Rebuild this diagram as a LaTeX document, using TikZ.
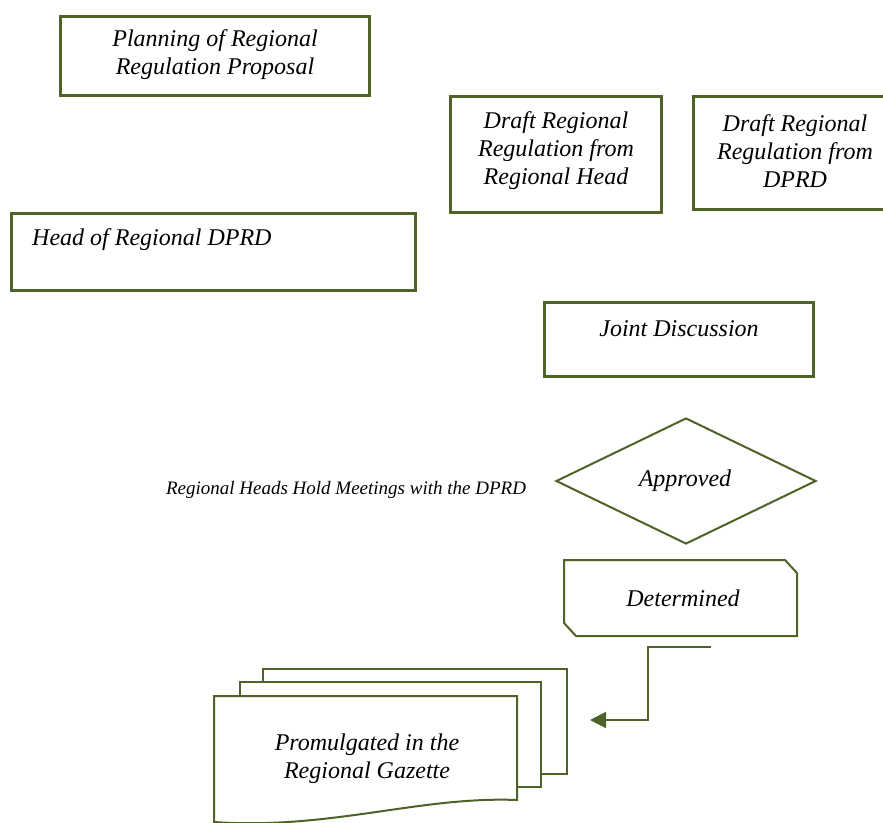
\documentclass[tikz,border=0pt]{standalone}
\usepackage{fontspec}
\setmainfont{Liberation Serif}
\usetikzlibrary{shapes.geometric,arrows.meta}
\definecolor{boxgreen}{HTML}{4F6228}
\begin{document}
\begin{tikzpicture}[x=1pt,y=-1pt,
  thickbox/.style={rectangle, draw=boxgreen, line width=3.2pt, fill=white, inner sep=0pt},
  thinline/.style={draw=boxgreen, line width=2pt},
  txt/.style={font=\fontsize{24}{28}\selectfont\itshape, align=center, inner sep=0pt, text=black},
  smalltxt/.style={font=\fontsize{19}{22}\selectfont\itshape, inner sep=0pt, text=black},
  docshape/.style={thinline, fill=white, line join=miter}]
\useasboundingbox (0,0) rectangle (883,822);
\clip (0,0) rectangle (883,822);
\fill[white] (0,0) rectangle (883,822);

% boxes
\node[thickbox, minimum width=309pt, minimum height=79pt] (plan) at (215,56) {};
\node[txt] (plantxt) at (215,55) {Planning of Regional\\Regulation Proposal};

\node[thickbox, minimum width=211pt, minimum height=116pt] (drh) at (556,154.5) {};
\node[txt] (drhtxt) at (556,151) {Draft Regional\\Regulation from\\Regional Head};

\node[thickbox, minimum width=203pt, minimum height=113pt] (ddprd) at (795,153) {};
\node[txt] (ddprdtxt) at (795,151) {Draft Regional\\Regulation from\\DPRD};

\node[thickbox, minimum width=404pt, minimum height=77pt] (head) at (213.5,252) {};
\node[txt, anchor=west] (headtxt) at (32,240) {Head of Regional DPRD};

\node[thickbox, minimum width=269pt, minimum height=74pt] (joint) at (679,339.5) {};
\node[txt] (jointtxt) at (679,329) {Joint Discussion};

\node[smalltxt] (meet) at (346,490) {Regional Heads Hold Meetings with the DPRD};

\node[diamond, thinline, fill=white, minimum width=260pt, minimum height=126pt, inner sep=0pt] (appr) at (686,481) {};
\node[txt] (apprtxt) at (685,481) {Approved};

% determined (snipped corners)
\draw[thinline, fill=white, line join=miter] (564,560) -- (785,560) -- (797,573) -- (797,636)
   -- (576,636) -- (564,623) -- cycle;
\node[txt] (det) at (683,598) {Determined};

% document stack
\draw[docshape] (263,669) rectangle (567,774);
\draw[docshape] (240,682) rectangle (541,787);
\draw[docshape] (214,696) -- (517,696) -- (517,800)
   .. controls (420,796) and (330,830) .. (214,822) -- cycle;
\coordinate (docR) at (590,720);
\node[txt] (doctxt) at (367,759) {Promulgated in the\\Regional Gazette};

% connector
\coordinate (arrS) at (711,647);
\coordinate (bend) at (648,647);
\draw[thinline, -{Triangle[length=16pt,width=16pt]}] (arrS) -- (bend) |- (docR);
\end{tikzpicture}
\end{document}
